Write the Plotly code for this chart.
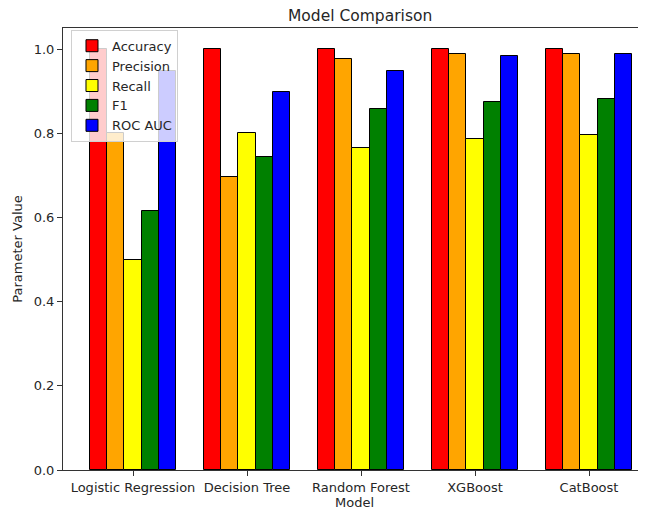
import plotly.graph_objects as go

models = ["Logistic Regression", "Decision Tree", "Random Forest", "XGBoost", "CatBoost"]
metrics = ["Accuracy", "Precision", "Recall", "F1", "ROC AUC"]
accuracy = [1.0, 1.0, 1.0, 1.0, 1.0]
precision = [0.80, 0.697, 0.976, 0.988, 0.988]
recall = [0.50, 0.80, 0.766, 0.786, 0.797]
f1 = [0.615, 0.743, 0.857, 0.875, 0.881]
roc_auc = [0.948, 0.898, 0.948, 0.984, 0.988]
colors = ["red", "orange", "yellow", "green", "blue"]

series = [accuracy, precision, recall, f1, roc_auc]
bar_w = 0.15

fig = go.Figure()
for k, (name, vals, col) in enumerate(zip(metrics, series, colors)):
    xs = [i + (k - 2) * bar_w for i in range(len(models))]
    fig.add_trace(go.Bar(
        x=xs, y=vals, name=name, width=bar_w,
        marker=dict(color=col, line=dict(color="black", width=1)),
    ))

font = dict(family="DejaVu Sans", size=13, color="#262626")
fig.update_layout(
    width=646, height=511,
    margin=dict(l=55, r=8, t=20, b=49, autoexpand=False),
    paper_bgcolor="white", plot_bgcolor="white",
    font=font,
    barmode="overlay",
    bargap=0,
    showlegend=True,
    legend=dict(x=0.0137, y=0.996, xanchor="left", yanchor="top",
                bgcolor="rgba(255,255,255,0.8)", bordercolor="#d0d0d0", borderwidth=1,
                font=dict(family="DejaVu Sans", size=13, color="#262626"),
                tracegroupgap=0),
)
fig.add_annotation(text="Model Comparison", xref="paper", yref="paper",
                   x=(360 - 63) / 583, y=1, yshift=1, xanchor="center", yanchor="bottom",
                   showarrow=False, font=dict(family="DejaVu Sans", size=15.5, color="#262626"))

fig.update_xaxes(
    range=[-0.614, 4.5],
    tickvals=list(range(len(models))), ticktext=models,
    showline=True, linecolor="#333333", linewidth=1, mirror=True,
    ticks="outside", ticklen=5, tickcolor="#333333",
    showgrid=False, zeroline=False,
    title=dict(text="Model", standoff=2, font=font),
)
fig.update_yaxes(
    range=[0, 1.05],
    tickvals=[0, 0.2, 0.4, 0.6, 0.8, 1.0], tickformat=".1f",
    showline=True, linecolor="#333333", linewidth=1,
    ticks="outside", ticklen=5, tickcolor="#333333",
    showgrid=False, zeroline=False,
    title=dict(text="Parameter Value", standoff=8, font=font),
)

fig.write_html("out.html")
